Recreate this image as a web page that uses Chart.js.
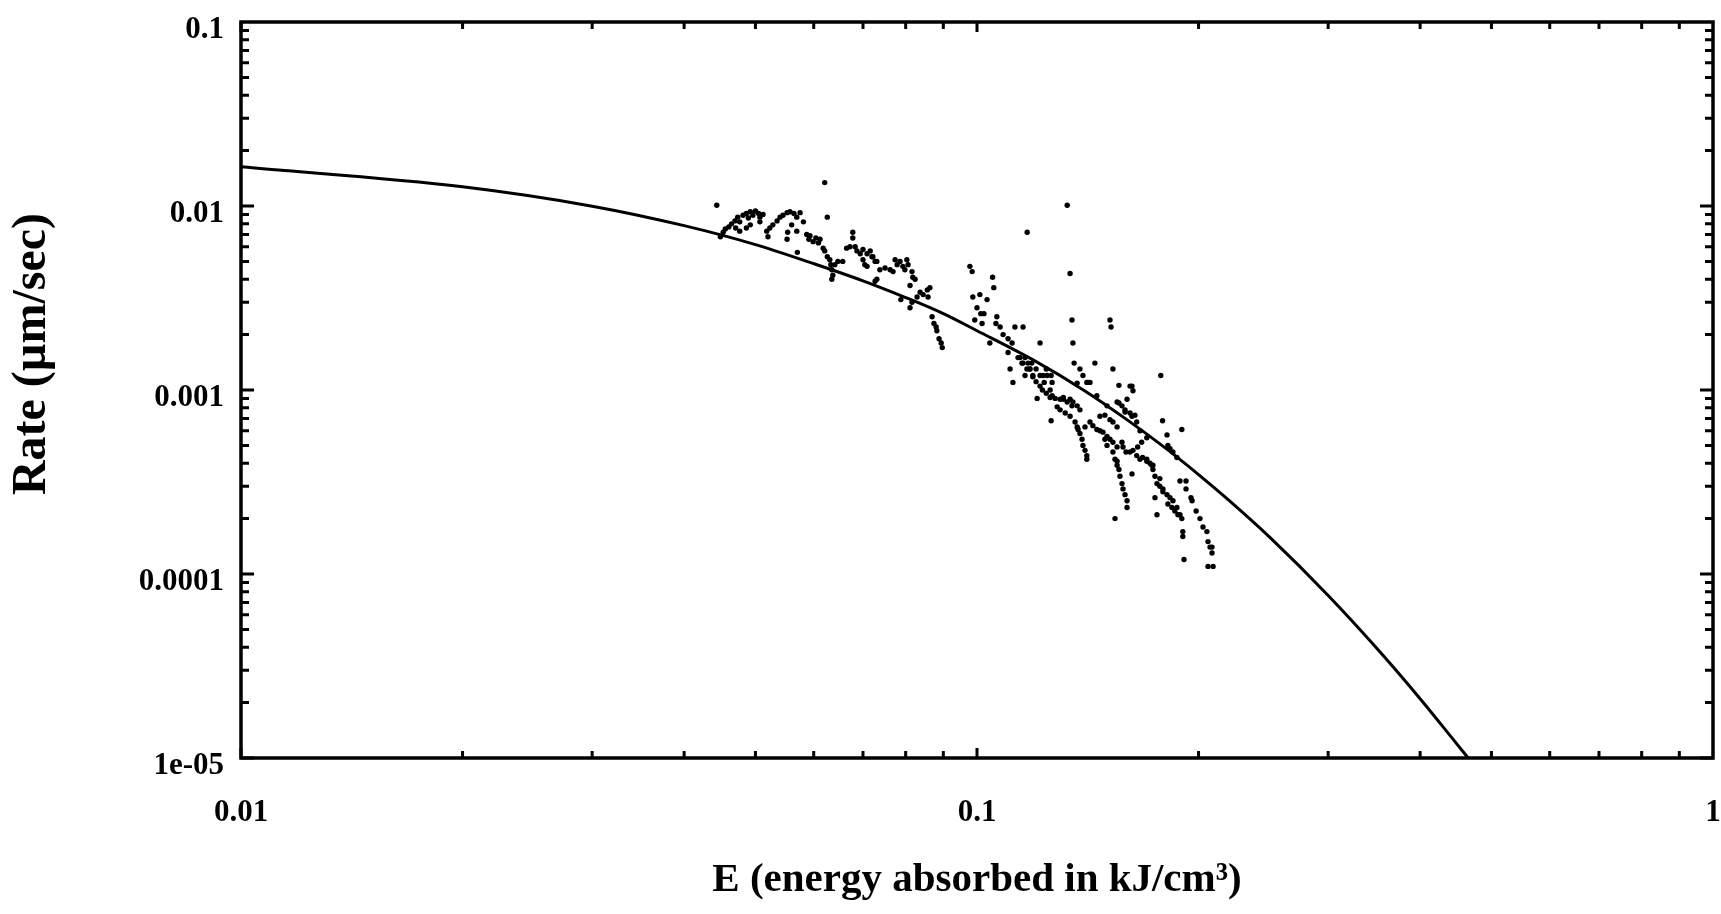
<!DOCTYPE html>
<html><head><meta charset="utf-8">
<script src="https://cdn.jsdelivr.net/npm/chart.js@4.4.1/dist/chart.umd.min.js"></script>
<style>html,body{margin:0;padding:0;background:#fff;}canvas{display:block;}</style>
</head><body>
<canvas id="c" width="1721" height="914"></canvas>
<script>
const xTickValues = [0.01, 0.1, 1];
const xTickLabels = ['0.01', '0.1', '1'];
const yTickValues = [0.1, 0.01, 0.001, 0.0001, 0.00001];
const yTickLabels = ['0.1', '0.01', '0.001', '0.0001', '1e-05'];
const xAxisTitle = 'E (energy absorbed in kJ/cm\u00B3)';
const yAxisTitle = 'Rate (\u00B5m/sec)';

// model curve
const curveE = [0.01, 0.02, 0.03, 0.04, 0.05, 0.06, 0.07, 0.08, 0.09, 0.10, 0.12, 0.14, 0.16, 0.18, 0.20, 0.22, 0.25, 0.30, 0.35, 0.40, 0.45, 0.465];
const curveRate = [0.01633, 0.01272, 0.00998, 0.00782, 0.00617, 0.00486, 0.00392, 0.00318, 0.0026, 0.00210, 0.001435, 0.000992, 0.000688, 0.000486, 0.000347, 0.000251, 0.000158, 0.0000764, 0.0000391, 0.0000210, 0.00001175, 0.0000100];

const measuredE = [
0.0443,0.0448,0.0452,0.0455,0.0460,0.0464,0.0469,0.0473,0.0476,0.0481,0.0486,0.0489,0.0492,0.0496,0.0500,0.0505,0.0507,0.0512,0.0476,0.0486,
0.0492,0.0518,0.0523,0.0528,0.0535,0.0540,0.0545,0.0552,0.0557,0.0564,0.0569,0.0575,0.0520,0.0552,0.0553,0.0560,0.0569,0.0581,0.0587,0.0591,
0.0593,0.0599,0.0604,0.0609,0.0612,0.0618,0.0621,0.0621,0.0626,0.0626,0.0631,0.0633,0.0635,0.0637,0.0635,0.0641,0.0647,0.0657,0.0665,0.0672,
0.0678,0.0678,0.0683,0.0687,0.0694,0.0700,0.0700,0.0704,0.0709,0.0709,0.0716,0.0720,0.0722,0.0727,0.0731,0.0731,0.0727,0.0738,0.0750,0.0762,
0.0769,0.0774,0.0779,0.0786,0.0793,0.0798,0.0803,0.0806,0.0816,0.0818,0.0824,0.0811,0.0829,0.0837,0.0845,0.0856,0.0863,0.0858,0.0788,0.0811,
0.0869,0.0874,0.0880,0.0882,0.0888,0.0894,0.0897,0.0570,0.0816,0.0507,0.0470,
0.0978,0.0985,0.105,0.1054,0.1326,0.117,0.1338,0.0987,0.1009,0.1032,0.1000,0.1012,0.1022,0.1064,0.0993,0.1016,0.1061,0.1075,0.1085,0.1102,
0.1116,0.1126,0.1155,0.1041,0.1218,0.1346,0.1350,0.1516,0.1521,0.1102,0.1109,0.1137,0.1144,0.1151,0.1162,0.1155,0.1169,0.1173,0.1180,0.1180,
0.1187,0.1191,0.1203,0.1218,0.1230,0.1234,0.1242,0.1245,0.1261,0.1265,0.1119,0.1162,0.1355,0.1380,0.1393,0.1446,0.1530,0.1777,0.1410,0.1424,
0.1227,0.1242,0.1257,0.1265,0.1277,0.1297,0.1310,0.1326,0.1338,0.1350,0.1368,0.1380,0.1207,0.1285,0.1297,0.1318,0.1338,0.1261,0.1359,0.1368,
0.1372,0.1380,0.1389,0.1393,0.1402,0.1410,0.1410,0.1424,0.1437,0.1455,0.1469,0.1492,0.1516,0.1530,0.1550,0.1559,0.1614,0.1629,0.1559,0.1574,
0.1589,0.1599,0.1614,0.1639,0.1483,0.1502,0.1516,0.1530,0.1550,0.1574,0.1579,0.1594,0.1614,0.1629,0.1648,0.1653,0.1674,0.1679,0.1701,0.1718,
0.1734,0.1787,0.1812,0.1898,0.1846,0.1869,0.1550,0.1540,0.1469,0.1492,0.1502,0.1530,0.1550,0.1559,0.1564,0.1574,0.1579,0.1589,0.1599,0.1599,
0.1540,0.1624,0.1665,0.1701,0.1728,0.1734,0.1745,0.1756,0.1772,0.1789,0.1812,0.1829,0.1846,0.1869,0.1887,0.1898,0.1904,0.1904,0.1745,0.1756,
0.1817,0.1923,0.1923,0.1953,0.1960,0.1985,0.2009,0.2028,0.2053,0.2060,0.2073,0.2086,0.2086,0.2060,0.2093,0.1911,0.1887,0.1772,0.1789,0.1817,
0.1840,0.1857,0.1875,0.1368,0.1415,0.1455,0.1502,0.1550,0.1589,0.1624,0.1648,0.1665,0.1701,0.1829,0.1191,0.1203,0.1257,0.1310,0.1346,0.1402,
0.1218,0.1624
];
const measuredRate = [
0.0101,0.0068,0.0072,0.0075,0.0077,0.0080,0.0083,0.0087,0.0082,0.0089,0.0091,0.0086,0.0093,0.0089,0.0094,0.0091,0.0087,0.0090,0.0073,0.0076,
0.0079,0.0073,0.0076,0.0079,0.0083,0.0087,0.0089,0.0092,0.0093,0.0091,0.0087,0.0092,0.0068,0.0066,0.0072,0.0079,0.0073,0.0082,0.0070,0.0066,
0.0069,0.0064,0.0067,0.0063,0.0066,0.0059,0.0057,0.0134,0.0087,0.0053,0.0051,0.0048,0.0045,0.0042,0.0040,0.0048,0.0050,0.0050,0.0059,0.0060,
0.0072,0.0067,0.0060,0.0057,0.0055,0.0051,0.0058,0.0048,0.0055,0.0047,0.0057,0.0053,0.0053,0.0050,0.0050,0.0040,0.0039,0.0045,0.0046,0.0045,
0.0044,0.0051,0.0048,0.0050,0.0047,0.0045,0.0051,0.0048,0.0044,0.0041,0.0040,0.0037,0.0032,0.0034,0.0033,0.0035,0.0036,0.0032,0.0031,0.0028,
0.0025,0.0023,0.0022,0.0021,0.0019,0.0018,0.0017,0.0056,0.0030,0.0082,0.0076,
0.0047,0.0044,0.0041,0.0036,0.0101,0.0072,0.0043,0.0032,0.0033,0.0031,0.0028,0.0026,0.0026,0.0025,0.0024,0.0023,0.0023,0.0022,0.0020,0.0019,
0.0018,0.0022,0.0022,0.0018,0.0018,0.0024,0.0018,0.0024,0.0022,0.0016,0.0013,0.0015,0.0015,0.0014,0.0015,0.0014,0.0013,0.0014,0.0013,0.0013,
0.0014,0.0012,0.0013,0.0012,0.0012,0.0011,0.0013,0.0012,0.0012,0.0011,0.0011,0.0012,0.0014,0.0013,0.0012,0.0014,0.0013,0.0012,0.0011,0.0011,
0.0010,0.00096,0.00091,0.00093,0.00090,0.00089,0.00091,0.00086,0.00089,0.00086,0.00082,0.00078,0.00090,0.00081,0.00078,0.00075,0.00072,0.00068,0.00067,0.00063,
0.00061,0.00058,0.00054,0.00050,0.00047,0.00044,0.00042,0.00067,0.00064,0.00061,0.00072,0.00073,0.00069,0.00067,0.00063,0.00106,0.00105,0.00099,0.00085,0.00082,
0.00078,0.00089,0.00075,0.00073,0.00059,0.00056,0.00054,0.00052,0.00049,0.00052,0.00049,0.00046,0.00046,0.00047,0.00044,0.00049,0.00052,0.00043,0.00042,0.00040,
0.00039,0.00068,0.00057,0.00061,0.00046,0.00043,0.00039,0.00042,0.00060,0.00054,0.00050,0.00046,0.00041,0.00037,0.00034,0.00031,0.00029,0.00027,0.00025,0.00023,
0.00020,0.00035,0.00042,0.00041,0.00039,0.00037,0.00034,0.00031,0.00030,0.00029,0.00027,0.00026,0.00025,0.00023,0.00021,0.00020,0.00017,0.00016,0.00026,0.00021,
0.00050,0.00032,0.00029,0.00026,0.00025,0.00022,0.00020,0.00018,0.00017,0.00015,0.00014,0.00014,0.00013,0.00011,0.00011,0.00012,0.00032,0.00033,0.00028,0.00024,
0.00023,0.00022,0.00021,0.00109,0.00110,0.00093,0.00082,0.00086,0.00076,0.00072,0.00067,0.00060,0.00055,0.00048,0.00118,0.00111,0.00100,0.00089,0.00082,0.00063,
0.00105,0.00105
];

const curvePoints = curveE.map((e, i) => ({x: e, y: curveRate[i]}));
const measuredPoints = measuredE.map((e, i) => ({x: e, y: measuredRate[i]}));

const FONT = '"Liberation Serif", "Times New Roman", serif';

function labelFor(values, labels, v) {
  for (let i = 0; i < values.length; i++) {
    if (Math.abs(Math.log10(values[i]) - Math.log10(v)) < 1e-6) return labels[i];
  }
  return '';
}

function clearScalePadding(s) {
  s.paddingLeft = 0; s.paddingRight = 0; s.paddingTop = 0; s.paddingBottom = 0;
}

const frameTicks = {
  id: 'frameTicks',
  afterDatasetsDraw(chart) {
    const {ctx, chartArea: {left, right, top, bottom}, scales: {x, y}} = chart;
    ctx.save();
    ctx.strokeStyle = '#000';
    ctx.lineWidth = 3;
    ctx.beginPath();
    for (let d = -5; d <= -2; d++) {
      for (let m = 1; m <= 9; m++) {
        const py = y.getPixelForValue(m * Math.pow(10, d));
        const len = m === 1 ? 13 : 8;
        ctx.moveTo(left, py); ctx.lineTo(left + len, py);
        ctx.moveTo(right, py); ctx.lineTo(right - len, py);
      }
    }
    for (let d = -2; d <= -1; d++) {
      for (let m = 1; m <= 9; m++) {
        const px = x.getPixelForValue(m * Math.pow(10, d));
        const len = m === 1 ? 10 : 7;
        ctx.moveTo(px, bottom); ctx.lineTo(px, bottom - len);
        ctx.moveTo(px, top); ctx.lineTo(px, top + len);
      }
    }
    ctx.stroke();
    ctx.lineWidth = 3.5;
    ctx.strokeRect(left, top, right - left, bottom - top);
    // y axis title
    ctx.translate(33, 354);
    ctx.rotate(-Math.PI / 2);
    ctx.font = 'bold 48px ' + FONT;
    ctx.fillStyle = '#000';
    ctx.textAlign = 'center';
    ctx.textBaseline = 'middle';
    ctx.fillText(yAxisTitle, 0, 0);
    ctx.restore();
  }
};

new Chart(document.getElementById('c'), {
  type: 'scatter',
  data: {
    datasets: [
      {
        type: 'line', label: 'model', data: curvePoints,
        borderColor: '#000', borderWidth: 3, pointRadius: 0,
        cubicInterpolationMode: 'monotone', fill: false
      },
      {
        type: 'scatter', label: 'data', data: measuredPoints,
        backgroundColor: '#000', borderColor: '#000', borderWidth: 0, pointRadius: 2.7
      }
    ]
  },
  options: {
    responsive: false,
    animation: false,
    layout: {padding: {left: 0, top: 22, right: 8, bottom: 0}},
    plugins: {legend: {display: false}, tooltip: {enabled: false}},
    scales: {
      x: {
        type: 'logarithmic', min: 0.01, max: 1,
        grid: {display: false, drawTicks: false},
        border: {display: false},
        afterBuildTicks: (s) => { s.ticks = xTickValues.map(v => ({value: v, major: true})); },
        afterFit: (s) => { s.height = 156; clearScalePadding(s); },
        ticks: {
          autoSkip: false, maxRotation: 0, padding: 36, color: '#000',
          font: {family: FONT, size: 31, weight: 'bold'},
          callback: (v) => labelFor(xTickValues, xTickLabels, v)
        },
        title: {
          display: true, text: xAxisTitle, color: '#000',
          font: {family: FONT, size: 41, weight: 'bold'},
          padding: {top: 0, bottom: 9}
        }
      },
      y: {
        type: 'logarithmic', min: 0.00001, max: 0.1,
        grid: {display: false, drawTicks: false},
        border: {display: false},
        afterBuildTicks: (s) => { s.ticks = yTickValues.map(v => ({value: v, major: true})); },
        afterFit: (s) => { s.width = 241; clearScalePadding(s); },
        ticks: {
          autoSkip: false, padding: 17, labelOffset: 8, color: '#000',
          font: {family: FONT, size: 31, weight: 'bold'},
          callback: (v) => labelFor(yTickValues, yTickLabels, v)
        }
      }
    }
  },
  plugins: [frameTicks]
});
</script>
</body></html>
